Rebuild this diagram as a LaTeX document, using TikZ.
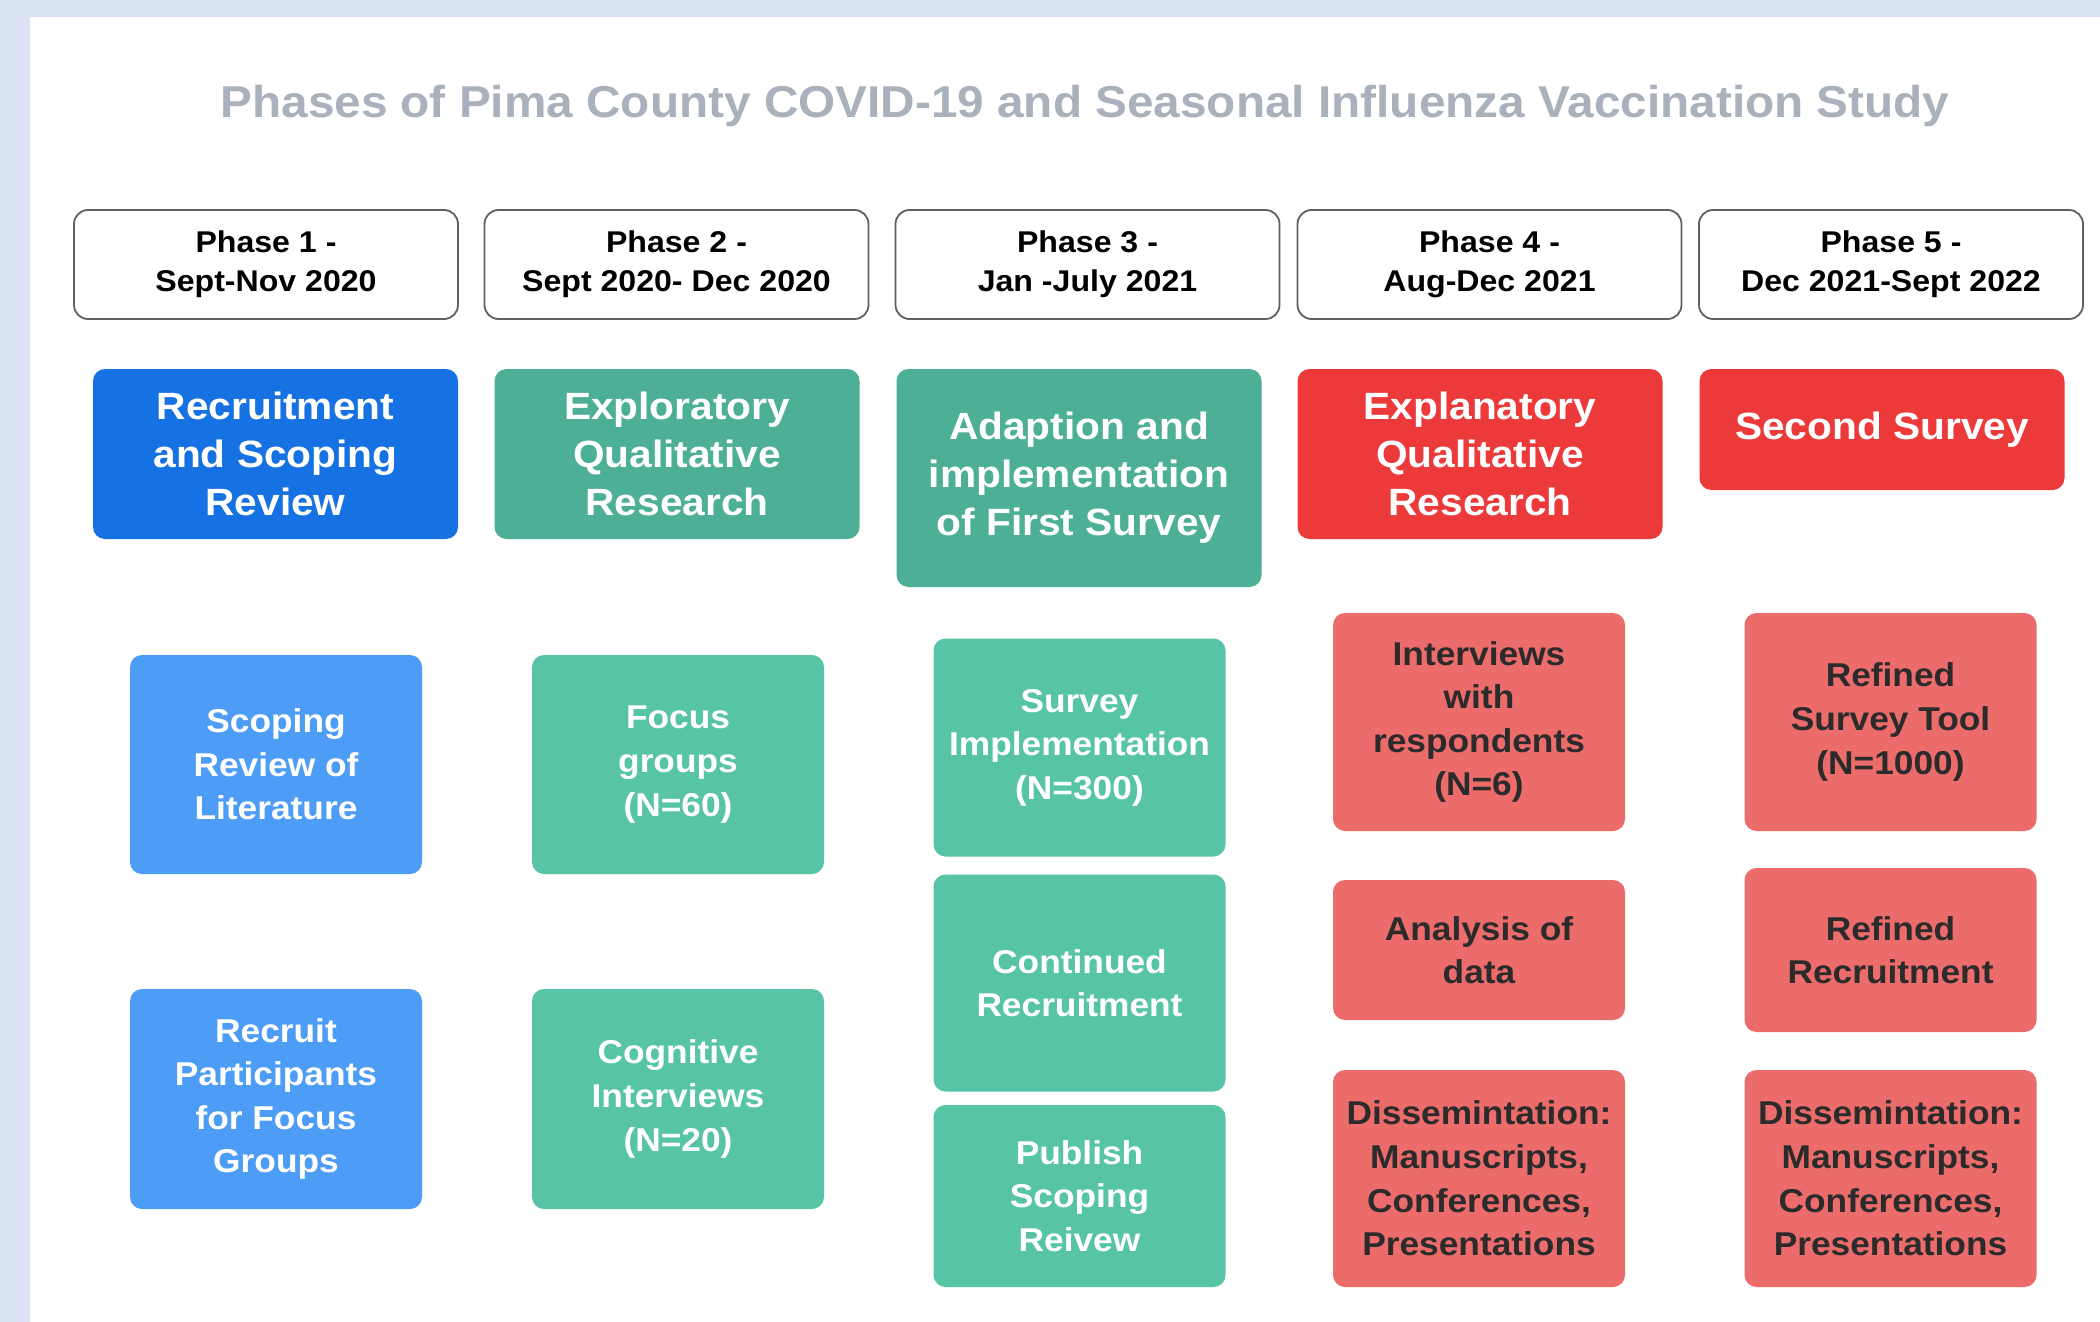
\documentclass[tikz,border=0pt]{standalone}
\usepackage{fontspec}
\setmainfont[FakeStretch=1.07]{Liberation Sans}
\definecolor{frameblue}{HTML}{DAE3F3}
\definecolor{titlegray}{HTML}{A8B1BC}
\definecolor{phaseline}{HTML}{606060}
\definecolor{blueA}{HTML}{1672E3}
\definecolor{blueB}{HTML}{4D9CF5}
\definecolor{tealA}{HTML}{4DAF96}
\definecolor{tealB}{HTML}{57C4A6}
\definecolor{redA}{HTML}{EC3939}
\definecolor{redB}{HTML}{EC6B6B}
\definecolor{darktext}{HTML}{2B2B2B}

\begin{document}
\begin{tikzpicture}[x=0.5pt, y=-0.5pt,
    phasebox/.style={draw=phaseline, line width=0.9pt, rounded corners=7pt, fill=white,
      minimum width=192pt, minimum height=54.5pt, align=center, text=black,
      font=\bfseries\fontsize{15}{19.5}\selectfont},
    headbox/.style={rounded corners=6pt, minimum width=182.5pt, align=center, text=white,
      font=\bfseries\fontsize{19}{24}\selectfont},
    subbox/.style={rounded corners=6pt, minimum width=146pt, align=center, text=white,
      font=\bfseries\fontsize{16.5}{21.8}\selectfont},
    darkbox/.style={subbox, fill=redB, text=darktext}]

    \fill[frameblue] (0,0) rectangle (2100,1322);
    \fill[white] (30,17) rectangle (2100,1322);
    \useasboundingbox (0,0) rectangle (2100,1322);

    \node[text=titlegray, font=\bfseries\fontsize{22.3}{27}\selectfont] (title) at (1085,106)
      {Phases of Pima County COVID-19 and Seasonal Influenza Vaccination Study};

    \node[phasebox] (P1) at (266,264.5) {Phase 1 -\\Sept-Nov 2020};
    \node[phasebox] (P2) at (676.5,264.5) {Phase 2 -\\Sept 2020- Dec 2020};
    \node[phasebox] (P3) at (1087.5,264.5) {Phase 3 -\\Jan -July 2021};
    \node[phasebox] (P4) at (1489.5,264.5) {Phase 4 -\\Aug-Dec 2021};
    \node[phasebox] (P5) at (1891,264.5) {Phase 5 -\\Dec 2021-Sept 2022};

    \node[headbox, fill=blueA, minimum height=85pt] (H1) at (275.5,454) {Recruitment\\and Scoping\\Review};
    \node[headbox, fill=tealA, minimum height=85pt] (H2) at (677,454) {Exploratory\\Qualitative\\Research};
    \node[headbox, fill=tealA, minimum height=109pt] (H3) at (1079,478) {Adaption and\\implementation\\of First Survey};
    \node[headbox, fill=redA, minimum height=85pt] (H4) at (1480,454) {Explanatory\\Qualitative\\Research};
    \node[headbox, fill=redA, minimum height=60.5pt] (H5) at (1882,429.5) {Second Survey};

    \node[subbox, fill=blueB, minimum height=109.5pt] (S11) at (276,764.5) {Scoping\\Review of\\Literature};
    \node[subbox, fill=blueB, minimum height=110pt] (S12) at (276,1099) {Recruit\\Participants\\for Focus\\Groups};

    \node[subbox, fill=tealB, minimum height=109.5pt] (S21) at (678,764.5) {Focus\\groups\\(N=60)};
    \node[subbox, fill=tealB, minimum height=110pt] (S22) at (678,1099) {Cognitive\\Interviews\\(N=20)};

    \node[subbox, fill=tealB, minimum height=109pt] (S31) at (1079.5,747.5) {Survey\\Implementation\\(N=300)};
    \node[subbox, fill=tealB, minimum height=108.5pt] (S32) at (1079.5,983) {Continued\\Recruitment};
    \node[subbox, fill=tealB, minimum height=91pt] (S33) at (1079.5,1196) {Publish\\Scoping\\Reivew};

    \node[darkbox, minimum height=109pt] (S41) at (1479,722) {Interviews\\with\\respondents\\(N=6)};
    \node[darkbox, minimum height=70pt] (S42) at (1479,950) {Analysis of\\data};
    \node[darkbox, minimum height=108.5pt] (S43) at (1479,1178.5) {Dissemintation:\\Manuscripts,\\Conferences,\\Presentations};

    \node[darkbox, minimum height=109pt] (S51) at (1890.5,722) {Refined\\Survey Tool\\(N=1000)};
    \node[darkbox, minimum height=82pt] (S52) at (1890.5,950) {Refined\\Recruitment};
    \node[darkbox, minimum height=108.5pt] (S53) at (1890.5,1178.5) {Dissemintation:\\Manuscripts,\\Conferences,\\Presentations};
\end{tikzpicture}
\end{document}
